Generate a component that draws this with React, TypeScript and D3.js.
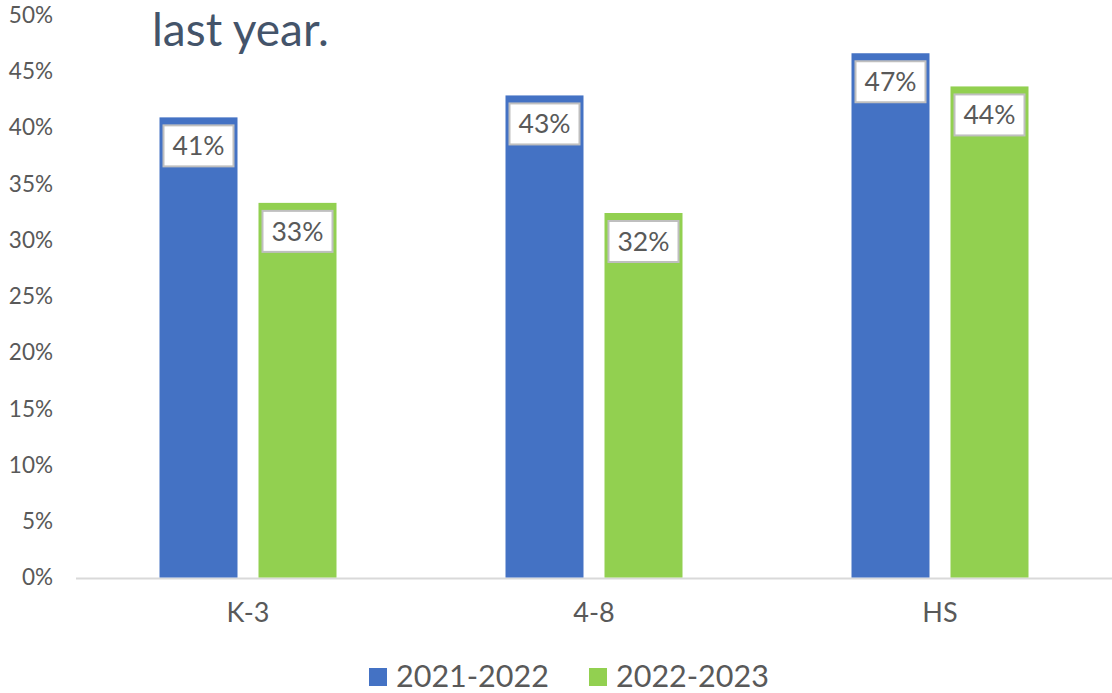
import React, { useEffect, useRef } from 'react';
import * as d3 from 'd3';

const width = 1112;
const height = 693;

const categories = ['K-3', '4-8', 'HS'];
const seriesNames = ['2021-2022', '2022-2023'];
const values2122 = [40.9, 42.85, 46.6];
const values2223 = [33.3, 32.4, 43.65];
const yTicks = [0, 5, 10, 15, 20, 25, 30, 35, 40, 45, 50];
const colors = ['#4472c4', '#92d050'];

const font = 'Lato, "Open Sans", sans-serif';

export default function App() {
  const ref = useRef<SVGSVGElement>(null);

  useEffect(() => {
    const svg = d3.select(ref.current);
    svg.selectAll('*').remove();

    const x0 = d3.scaleBand().domain(categories).range([75, 1113]);
    const x1 = d3.scaleBand().domain(seriesNames).range([-88.5, 88.5]).paddingInner(21 / 99);
    const y = d3.scaleLinear().domain([0, 50]).range([577.5, 15]);

    // y tick labels
    svg.append('g')
      .selectAll('text')
      .data(yTicks)
      .join('text')
      .attr('x', 53)
      .attr('y', d => y(d))
      .attr('dy', '0.35em')
      .attr('text-anchor', 'end')
      .attr('font-family', font)
      .attr('font-size', 22.5)
      .attr('fill', '#595959')
      .text(d => d + '%');

    // baseline
    svg.append('line')
      .attr('x1', 76).attr('x2', width)
      .attr('y1', y(0) + 1).attr('y2', y(0) + 1)
      .attr('stroke', '#d9d9d9')
      .attr('stroke-width', 2);

    const data = categories.map((c, i) => ({
      cat: c,
      vals: [values2122[i], values2223[i]],
    }));

    const groups = svg.append('g')
      .selectAll('g')
      .data(data)
      .join('g')
      .attr('transform', d => `translate(${x0(d.cat)! + x0.bandwidth() / 2},0)`);

    const bars = groups.selectAll('g')
      .data(d => d.vals.map((v, j) => ({ name: seriesNames[j], v, j })))
      .join('g');

    bars.append('rect')
      .attr('x', d => x1(d.name)!)
      .attr('width', x1.bandwidth())
      .attr('y', d => y(d.v))
      .attr('height', d => y(0) - y(d.v))
      .attr('fill', d => colors[d.j]);

    // data labels
    const boxW = 70;
    const boxH = 41;
    bars.append('rect')
      .attr('x', d => x1(d.name)! + x1.bandwidth() / 2 - boxW / 2)
      .attr('y', d => y(d.v) + 8)
      .attr('width', boxW)
      .attr('height', boxH)
      .attr('fill', '#fff')
      .attr('stroke', '#bfbfbf')
      .attr('stroke-width', 2);

    bars.append('text')
      .attr('x', d => x1(d.name)! + x1.bandwidth() / 2)
      .attr('y', d => y(d.v) + 8 + boxH / 2)
      .attr('dy', '0.36em')
      .attr('text-anchor', 'middle')
      .attr('font-family', font)
      .attr('font-size', 26.5)
      .attr('fill', '#595959')
      .text(d => Math.round(d.v) + '%');

    // category labels
    svg.append('g')
      .selectAll('text')
      .data(categories)
      .join('text')
      .attr('x', d => x0(d)! + x0.bandwidth() / 2)
      .attr('y', 613)
      .attr('dy', '0.35em')
      .attr('text-anchor', 'middle')
      .attr('font-family', font)
      .attr('font-size', 27)
      .attr('fill', '#595959')
      .text(d => d);

    // legend
    const legendX = [369, 589];
    const legend = svg.append('g')
      .selectAll('g')
      .data(seriesNames)
      .join('g')
      .attr('transform', (d, i) => `translate(${legendX[i]},668)`);
    legend.append('rect')
      .attr('width', 18).attr('height', 18)
      .attr('fill', (d, i) => colors[i]);
    legend.append('text')
      .attr('x', 27)
      .attr('y', 8)
      .attr('dy', '0.36em')
      .attr('font-family', font)
      .attr('font-size', 30.5)
      .attr('fill', '#595959')
      .text(d => d);

    // title fragment
    svg.append('text')
      .attr('x', 152)
      .attr('y', 46)
      .attr('font-family', font)
      .attr('font-size', 46)
      .attr('fill', '#44546a')
      .text('last year.');
  }, []);

  return <svg ref={ref} width={width} height={height}
    style={{ position: 'absolute', left: 0, top: 0, background: '#fff' }} />;
}
